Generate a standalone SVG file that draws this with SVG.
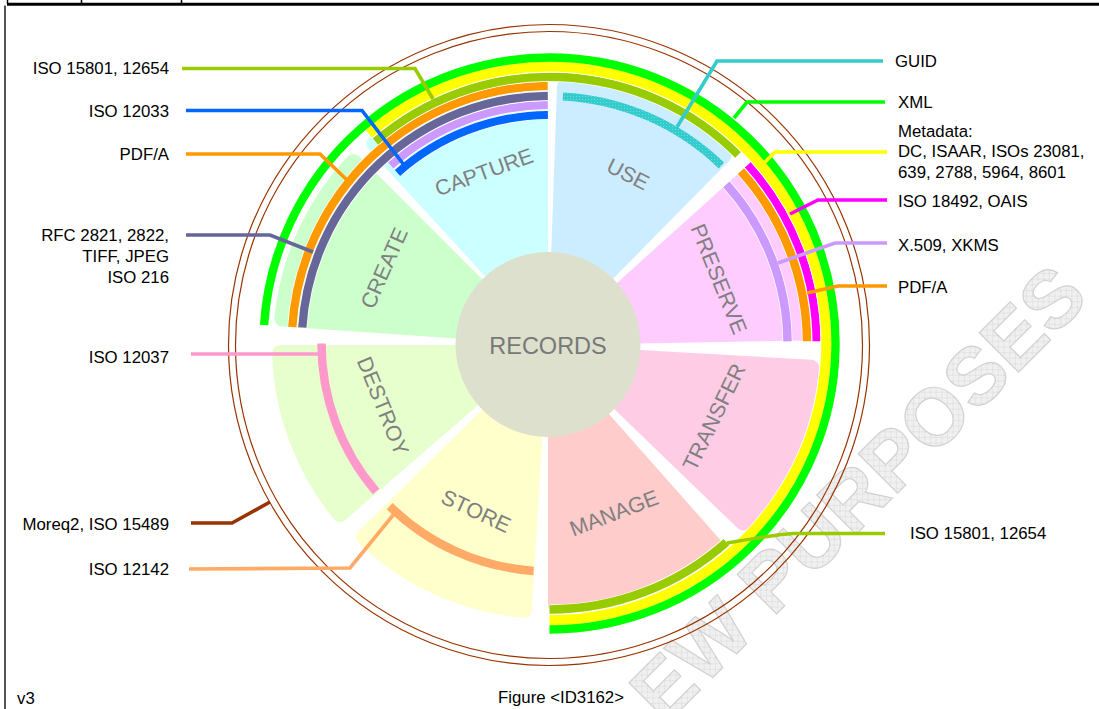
<svg xmlns="http://www.w3.org/2000/svg" width="1099" height="709" viewBox="0 0 1099 709">
<style>
text{font-family:"Liberation Sans",Arial,Helvetica,sans-serif}
.lbl{font-size:16.8px;fill:#000}
.end{text-anchor:end}
.sec{font-size:21.5px;fill:#808080;text-anchor:middle}
.wedge{stroke-width:16;stroke-linejoin:round}
.band{fill:none;stroke-linecap:butt}
.halo{fill:none;stroke:#fff}
.con{fill:none;stroke-width:3.6;stroke-linejoin:miter}
</style>
<defs>
<pattern id="hatch" width="8" height="8" patternUnits="userSpaceOnUse">
<rect width="8" height="8" fill="#F0F0F0"/>
<path d="M0,0 L8,8 M8,0 L0,8" stroke="#DADADA" stroke-width="0.7"/>
</pattern>
<pattern id="tealTex" width="3" height="3" patternUnits="userSpaceOnUse">
<rect width="3" height="3" fill="#33CCCC"/>
<rect x="0" y="0" width="1" height="1" fill="#70DADA"/>
</pattern>
</defs>
<rect width="1099" height="709" fill="#fff"/>
<g id="watermark">
<text transform="translate(664.6,726) rotate(-45)" font-size="81" font-weight="bold" fill="url(#hatch)" stroke="#D2D2D2" stroke-width="1.2">EW PURPOSES</text>
</g>
<g id="frame" fill="none">
<line x1="7" y1="4.3" x2="1099" y2="4.3" stroke="#000" stroke-width="3"/>
<line x1="7.5" y1="0" x2="7.5" y2="4" stroke="#000" stroke-width="1.5"/>
<line x1="81.5" y1="0" x2="81.5" y2="4" stroke="#000" stroke-width="1.5"/>
<line x1="181.5" y1="0" x2="181.5" y2="4" stroke="#000" stroke-width="1.5"/>
<line x1="5" y1="5.5" x2="5" y2="709" stroke="#555" stroke-width="2"/>
</g>
<g id="outer-ring" fill="none" stroke="#993300" stroke-width="1.2">
<circle cx="549" cy="345" r="320.5"/>
<circle cx="549" cy="345" r="313.5"/>
</g>
<g id="sector-transfer">
<path class="wedge" fill="#FFCCE6" stroke="#FFCCE6" d="M639.1,358.1 L811.0,367.7 A264,264 0 0 1 743.3,522.6 L619.5,402.9 A92,92 0 0 0 639.1,358.1 Z"/>
</g>
<g id="sector-manage">
<path class="wedge" fill="#FFCCCC" stroke="#FFCCCC" d="M602.7,419.0 L714.2,545.0 A260,260 0 0 1 556.0,604.9 L556.0,436.7 A92,92 0 0 0 602.7,419.0 Z"/>
</g>
<g id="sector-store">
<path class="wedge" fill="#FFFFCC" stroke="#FFFFCC" d="M534.4,436.0 L523.8,609.9 A266,266 0 0 1 364.1,537.2 L488.2,414.9 A92,92 0 0 0 534.4,436.0 Z"/>
</g>
<g id="sector-destroy">
<path class="wedge" fill="#E6FFCC" stroke="#E6FFCC" d="M473.4,398.8 L340.0,514.0 A268,268 0 0 1 280.1,353.0 L456.3,353.0 A92,92 0 0 0 473.4,398.8 Z"/>
</g>
<g id="sector-create">
<path class="wedge" fill="#CCFFCC" stroke="#CCFFCC" d="M457.1,330.6 L282.3,318.4 A267,267 0 0 1 353.6,162.0 L477.5,285.9 A92,92 0 0 0 457.1,330.6 Z"/>
</g>
<g id="sector-capture">
<path class="wedge" fill="#CCFFFF" stroke="#CCFFFF" d="M492.0,272.0 L374.2,143.6 A266,266 0 0 1 540.0,79.1 L540.0,253.3 A92,92 0 0 0 492.0,272.0 Z"/>
</g>
<g id="sector-use">
<path class="wedge" fill="#CCECFF" stroke="#CCECFF" d="M559.2,253.7 L565.0,86.6 A259,259 0 0 1 723.8,154.8 L606.5,274.0 A92,92 0 0 0 559.2,253.7 Z"/>
</g>
<g id="sector-preserve">
<path class="wedge" fill="#FFCCFF" stroke="#FFCCFF" d="M621.5,289.6 L748.0,175.7 A262,262 0 0 1 809.7,332.4 L639.5,335.4 A92,92 0 0 0 621.5,289.6 Z"/>
</g>
<g id="records">
<circle cx="548" cy="344.5" r="92.5" fill="#DDE0CD"/>
<text x="548" y="354" font-size="23.5" fill="#787878" text-anchor="middle">RECORDS</text>
</g>
<g id="bands">
<path class="halo" stroke-width="9.5" d="M397.5,172.9 A228.5,228.5 0 0 1 547.9,115.0"/>
<path class="band" stroke="#0066FF" stroke-width="8" d="M397.5,172.9 A228.5,228.5 0 0 1 547.9,115.0"/>
<path class="band" stroke="#FF99CC" stroke-width="8.5" d="M376.1,491.6 A228,228 0 0 1 321.5,343.5"/>
<path class="band" stroke="#FFAA66" stroke-width="8.5" d="M533.6,570.9 A228,228 0 0 1 389.7,506.1"/>
<path class="halo" stroke-width="9.5" d="M390.8,165.4 A238.5,238.5 0 0 1 547.8,105.0"/>
<path class="band" stroke="#CC99FF" stroke-width="8" d="M390.8,165.4 A238.5,238.5 0 0 1 547.8,105.0"/>
<path class="halo" stroke-width="10" d="M726.4,184.3 A238,238 0 0 1 787.5,341.4"/>
<path class="band" stroke="#CC99FF" stroke-width="8.5" d="M726.4,184.3 A238,238 0 0 1 787.5,341.4"/>
<path class="band" stroke="url(#tealTex)" stroke-width="8" d="M562.9,96.4 A247.5,247.5 0 0 1 721.4,165.5"/>
<path class="halo" stroke-width="9.8" d="M302.3,327.5 A247.7,247.7 0 0 1 547.8,95.8"/>
<path class="band" stroke="#666699" stroke-width="8.3" d="M302.3,327.5 A247.7,247.7 0 0 1 547.8,95.8"/>
<path class="halo" stroke-width="9.8" d="M292.3,326.9 A257.7,257.7 0 0 1 547.7,85.8"/>
<path class="band" stroke="#FF9900" stroke-width="8.3" d="M292.3,326.9 A257.7,257.7 0 0 1 547.7,85.8"/>
<path class="halo" stroke-width="10" d="M740.9,171.2 A257.5,257.5 0 0 1 807.0,341.3"/>
<path class="band" stroke="#FF9900" stroke-width="8.5" d="M740.9,171.2 A257.5,257.5 0 0 1 807.0,341.3"/>
<path class="halo" stroke-width="9.8" d="M375.4,141.5 A266.7,266.7 0 0 1 738.1,154.9"/>
<path class="band" stroke="#99CC00" stroke-width="8.3" d="M375.4,141.5 A266.7,266.7 0 0 1 738.1,154.9"/>
<path class="halo" stroke-width="10" d="M726.5,542.1 A266,266 0 0 1 549.5,609.5"/>
<path class="band" stroke="#99CC00" stroke-width="8.6" d="M726.5,542.1 A266,266 0 0 1 549.5,609.5"/>
<path class="halo" stroke-width="9.5" d="M747.9,164.8 A267,267 0 0 1 816.5,341.2"/>
<path class="band" stroke="#FF00FF" stroke-width="8" d="M747.9,164.8 A267,267 0 0 1 816.5,341.2"/>
<path class="halo" stroke-width="11.5" d="M368.8,133.8 A276.8,276.8 0 1 1 549.5,620.3"/>
<path class="band" stroke="#FFFF00" stroke-width="10" d="M368.8,133.8 A276.8,276.8 0 1 1 549.5,620.3"/>
<path class="band" stroke="#00FF00" stroke-width="8.4" d="M264.1,325.0 A286,286 0 1 1 549.5,629.5"/>
</g>
<g id="connectors" class="con">
<polyline class="con" stroke="#99CC00" points="182,68.5 415,68.5 433,99"/>
<polyline class="con" stroke="#0066FF" points="186,110.5 362,110.5 404,165"/>
<polyline class="con" stroke="#FF9900" points="186,154 320,154 348,181"/>
<polyline class="con" stroke="#666699" points="186,235 270,235 313,252"/>
<polyline class="con" stroke="#FF99CC" points="191,354 321,354"/>
<polyline class="con" stroke="#993300" points="191,523 232,523 270,502"/>
<polyline class="con" stroke="#FFAA66" points="189,569 350,568 394,514"/>
<polyline class="con" stroke="#33CCCC" points="883,61 717,61 677,127"/>
<polyline class="con" stroke="#00FF00" points="885,102 747,102 734,118"/>
<polyline class="con" stroke="#FFFF00" points="887,152 775,152 764,163"/>
<polyline class="con" stroke="#FF00FF" points="887,200 818,200 790,214"/>
<polyline class="con" stroke="#CC99FF" points="887,243 835,243 778,263"/>
<polyline class="con" stroke="#FF9900" points="887,286 838,286 807,293"/>
<path class="con" stroke="#99CC00" d="M885,533.5 L793,533.5 Q780,534 727,543"/>
</g>
<g id="sector-labels">
<text class="sec" transform="translate(484,172) rotate(-20)" y="7.5">CAPTURE</text>
<text class="sec" transform="translate(628,174) rotate(27)" y="7.5">USE</text>
<text class="sec" transform="translate(719,279) rotate(68)" y="7.5">PRESERVE</text>
<text class="sec" transform="translate(714,417) rotate(-64)" y="7.5">TRANSFER</text>
<text class="sec" transform="translate(614,513) rotate(-21)" y="7.5">MANAGE</text>
<text class="sec" transform="translate(476,511) rotate(25)" y="7.5">STORE</text>
<text class="sec" transform="translate(383,406) rotate(68)" y="7.5">DESTROY</text>
<text class="sec" transform="translate(384,268) rotate(-66)" y="7.5">CREATE</text>
</g>
<g id="label-iso15801-left"><text class="lbl end" x="169" y="74">ISO 15801, 12654</text></g>
<g id="label-iso12033"><text class="lbl end" x="169" y="116.5">ISO 12033</text></g>
<g id="label-pdfa-left"><text class="lbl end" x="169" y="160">PDF/A</text></g>
<g id="label-rfc"><text class="lbl end" x="169" y="240.5">RFC 2821, 2822,</text><text class="lbl end" x="169" y="262">TIFF, JPEG</text><text class="lbl end" x="169" y="282.5">ISO 216</text></g>
<g id="label-iso12037"><text class="lbl end" x="169" y="362.5">ISO 12037</text></g>
<g id="label-moreq2"><text class="lbl end" x="169" y="530">Moreq2, ISO 15489</text></g>
<g id="label-iso12142"><text class="lbl end" x="169" y="575">ISO 12142</text></g>
<g id="label-guid"><text class="lbl" x="895" y="66.5">GUID</text></g>
<g id="label-xml"><text class="lbl" x="898" y="108">XML</text></g>
<g id="label-metadata"><text class="lbl" x="898" y="136.5">Metadata:</text><text class="lbl" x="898" y="157">DC, ISAAR, ISOs 23081,</text><text class="lbl" x="898" y="177.5">639, 2788, 5964, 8601</text></g>
<g id="label-iso18492"><text class="lbl" x="898" y="206.5">ISO 18492, OAIS</text></g>
<g id="label-x509"><text class="lbl" x="898" y="250.5">X.509, XKMS</text></g>
<g id="label-pdfa-right"><text class="lbl" x="898" y="293">PDF/A</text></g>
<g id="label-iso15801-right"><text class="lbl" x="910" y="539">ISO 15801, 12654</text></g>
<g id="footer"><text class="lbl" x="17" y="704">v3</text><text class="lbl" x="498" y="703">Figure &lt;ID3162&gt;</text></g>
</svg>
